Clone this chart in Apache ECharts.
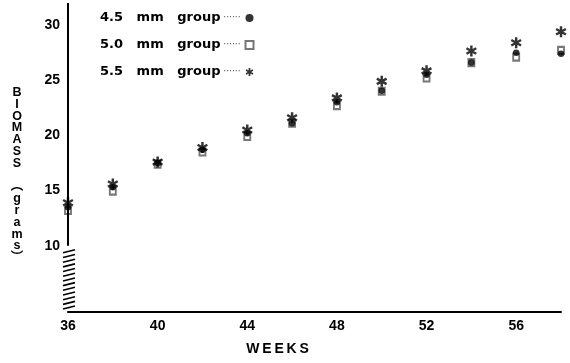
<!DOCTYPE html>
<html>
<head>
<meta charset="utf-8">
<script src="https://cdn.jsdelivr.net/npm/echarts@6/dist/echarts.min.js"></script>
<style>
  html, body { margin: 0; padding: 0; background: #fff; }
  #chart { width: 570px; height: 363px; }
</style>
</head>
<body>
<div id="chart"></div>
<script>
// Age of the fish (weeks) at each weighing
const weeks = [36, 38, 40, 42, 44, 46, 48, 50, 52, 54, 56, 58];
// Mean biomass (grams) per mesh-size group
const group45 = [13.5, 15.3, 17.5, 18.7, 20.2, 21.1, 23.0, 24.05, 25.5, 26.6, 27.5, 27.4];
const group50 = [13.2, 14.95, 17.4, 18.5, 19.9, 21.1, 22.7, 24.0, 25.2, 26.6, 27.1, 27.7];
const group55 = [13.9, 15.6, 17.6, 18.9, 20.5, 21.6, 23.4, 24.9, 25.85, 27.65, 28.4, 29.4];
const seriesNames = ['4.5 mm group', '5.0 mm group', '5.5 mm group'];
const xTicks = [36, 40, 44, 48, 52, 56];
const yTicks = [10, 15, 20, 25, 30];

const FONT = 'Liberation Sans, Arial, sans-serif';
// six-spoked asterisk built from three bars
const ASTERISK = 'path://M-1.3,-6L1.3,-6L1.3,6L-1.3,6Z' +
  'M4.546,4.126L-5.846,-1.874L-4.546,-4.126L5.846,1.874Z' +
  'M5.846,-1.874L-4.546,4.126L-5.846,1.874L4.546,-4.126Z';

const pairs = arr => weeks.map((w, i) => [w, arr[i]]);

// axis title stacked one letter per line, set a little below the axis middle
const yTitleLines = ['\u00a0', '\u00a0', '\u00a0', 'B', 'I', 'O', 'M', 'A', 'S', 'S', '\u00a0',
  '\uFE35', 'g', 'r', 'a', 'm', 's', '\uFE36'];

const chart = echarts.init(document.getElementById('chart'), null, { renderer: 'canvas' });

chart.setOption({
  animation: false,
  backgroundColor: '#fff',
  grid: { left: 68, right: 9, top: 3, bottom: 51, containLabel: false },
  legend: {
    orient: 'vertical',
    left: 100,
    top: 11,
    padding: 0,
    align: 'right',
    itemWidth: 8,
    itemHeight: 8,
    itemGap: 13,
    data: seriesNames,
    formatter: name => '{t|' + name.replace(/ /g, '   ') + '}{d| ······}',
    textStyle: {
      lineHeight: 14,
      rich: {
        t: { fontFamily: 'DejaVu Sans', fontWeight: 'bold', fontSize: 13, color: '#000' },
        d: { fontFamily: 'DejaVu Sans', fontSize: 9, color: '#555' }
      }
    }
  },
  xAxis: {
    type: 'value',
    min: 36,
    max: 58,
    interval: 4,
    axisLine: { show: true, onZero: false, lineStyle: { color: '#000', width: 2 } },
    axisTick: { show: false },
    splitLine: { show: false },
    axisLabel: {
      color: '#000', fontFamily: FONT, fontWeight: 'bold', fontSize: 14, margin: 7,
      showMaxLabel: false,
      formatter: v => xTicks.includes(v) ? String(v) : ''
    },
    name: 'W\u2009E\u2009E\u2009K\u2009S',
    nameLocation: 'middle',
    nameGap: 30,
    nameTextStyle: {
      color: '#000', fontFamily: FONT, fontWeight: 'bold', fontSize: 14,
      padding: [0, 74, 0, 0]
    }
  },
  yAxis: {
    type: 'value',
    min: 4,
    max: 32,
    interval: 1,
    axisLine: { show: false },
    axisTick: { show: false },
    splitLine: { show: false },
    axisLabel: {
      color: '#000', fontFamily: FONT, fontWeight: 'bold', fontSize: 14, margin: 8,
      formatter: v => yTicks.includes(v) ? String(v) : ''
    },
    name: yTitleLines.join('\n'),
    nameLocation: 'middle',
    nameRotate: 0,
    nameGap: 51,
    nameTextStyle: {
      color: '#000', fontFamily: FONT + ', Noto Sans CJK SC', fontWeight: 'bold',
      fontSize: 12.5, lineHeight: 11.8, align: 'center'
    }
  },
  series: [
    {
      name: seriesNames[1],
      type: 'scatter',
      symbol: 'emptyRect',
      symbolSize: [6, 7],
      itemStyle: { color: '#555', borderColor: '#555', borderWidth: 1 },
      data: pairs(group50),
      z: 2,
      // vertical axis drawn from 10 g upward; below it the scale is broken
      markLine: {
        silent: true,
        symbol: ['none', 'none'],
        label: { show: false },
        lineStyle: { color: '#000', width: 2, type: 'solid' },
        data: [[{ coord: [36, 10] }, { coord: [36, 32] }]]
      }
    },
    {
      name: seriesNames[0],
      type: 'scatter',
      symbol: 'circle',
      symbolSize: 6.5,
      itemStyle: { color: '#000' },
      data: pairs(group45),
      z: 3
    },
    {
      name: seriesNames[2],
      type: 'scatter',
      symbol: ASTERISK,
      symbolSize: 11,
      itemStyle: { color: '#000' },
      data: pairs(group55),
      z: 4
    }
  ]
});

// hatch marks showing the break in the biomass scale
const breakTop = chart.convertToPixel({ gridIndex: 0 }, [36, 9.5]);
const breakBot = chart.convertToPixel({ gridIndex: 0 }, [36, 4.4]);
const hatchCount = 13;
const hatch = [];
for (let i = 0; i < hatchCount; i++) {
  const y = breakTop[1] + (breakBot[1] - breakTop[1]) * i / (hatchCount - 1);
  hatch.push({
    type: 'line',
    shape: { x1: breakTop[0] - 5, y1: y + 1.5, x2: breakTop[0] + 7, y2: y - 1.5 },
    style: { stroke: '#000', lineWidth: 1.6 },
    silent: true
  });
}
chart.setOption({ graphic: hatch });
</script>
</body>
</html>
